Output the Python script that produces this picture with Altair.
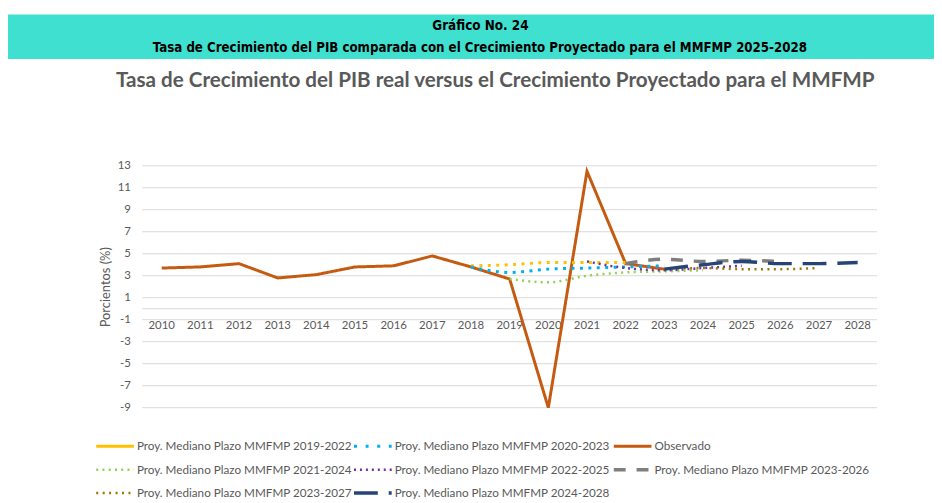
import altair as alt
import pandas as pd

# ---------------- data ----------------
years = list(range(2010, 2029))
year_labels = [str(y) for y in years]
y_ticks = [-9, -7, -5, -3, -1, 1, 3, 5, 7, 9, 11, 13]

series_names = [
    "Proy. Mediano Plazo MMFMP 2019-2022",
    "Proy. Mediano Plazo MMFMP 2020-2023",
    "Observado",
    "Proy. Mediano Plazo MMFMP 2021-2024",
    "Proy. Mediano Plazo MMFMP 2022-2025",
    "Proy. Mediano Plazo MMFMP 2023-2026",
    "Proy. Mediano Plazo MMFMP 2023-2027",
    "Proy. Mediano Plazo MMFMP 2024-2028",
]
series_colors = ["#FFC000", "#00B0F0", "#C55A11", "#92D050",
                 "#7030A0", "#7F7F7F", "#9C7700", "#264478"]
series_dashes = [[3, 5.5], [3, 5.5], [1, 0], [2, 4.3],
                 [2, 4], [12, 11], [2, 4.5], [24, 11]]
legend_dashes = [[1, 0], [3, 8.7], [1, 0], [2, 4.3],
                 [2, 4], [12, 11], [2, 4.5], [24, 11]]
series_widths = [3, 3, 3, 2.5, 2.5, 3.5, 2.5, 3.5]

observado_years = list(range(2010, 2024))
observado = [3.7, 3.8, 4.1, 2.8, 3.1, 3.8, 3.9, 4.8, 3.8, 2.7, -9.0, 12.5, 4.1, 3.6]

p1922_years = [2018, 2019, 2020, 2021, 2022]
p1922 = [3.9, 4.0, 4.2, 4.2, 4.2]
p2023_years = [2018, 2019, 2020, 2021, 2022, 2023]
p2023 = [3.8, 3.3, 3.6, 3.7, 3.8, 3.9]
p2124_years = [2019, 2020, 2021, 2022, 2023, 2024]
p2124 = [2.7, 2.4, 3.0, 3.3, 3.4, 3.5]
p2225_years = [2021, 2022, 2023, 2024, 2025]
p2225 = [4.3, 3.7, 3.5, 3.7, 3.9]
p2326_years = [2022, 2023, 2024, 2025, 2026]
p2326 = [4.1, 4.5, 4.3, 4.4, 4.3]
p2327_years = [2023, 2024, 2025, 2026, 2027]
p2327 = [3.6, 3.7, 3.6, 3.6, 3.7]
p2428_years = [2023, 2024, 2025, 2026, 2027, 2028]
p2428 = [3.6, 4.0, 4.3, 4.1, 4.1, 4.2]

header_line1 = "Gráfico No. 24"
header_line2 = "Tasa de Crecimiento del PIB comparada con el Crecimiento Proyectado para el MMFMP 2025-2028"
main_title = "Tasa de Crecimiento del PIB real versus el Crecimiento Proyectado para el MMFMP"
y_title = "Porcientos (%)"

# ---------------- tables ----------------
df_obs = pd.DataFrame({"year": observado_years, "value": observado, "series": "Observado"})
proj_parts = [
    (series_names[0], p1922_years, p1922),
    (series_names[1], p2023_years, p2023),
    (series_names[3], p2124_years, p2124),
    (series_names[4], p2225_years, p2225),
    (series_names[5], p2326_years, p2326),
    (series_names[6], p2327_years, p2327),
    (series_names[7], p2428_years, p2428),
]
df_proj = pd.concat(
    [pd.DataFrame({"year": ys, "value": vs, "series": n}) for n, ys, vs in proj_parts],
    ignore_index=True,
)
df_years = pd.DataFrame({"year": years, "label": year_labels})
df_grid = pd.DataFrame({"value": y_ticks})

# ---------------- layout / styling ----------------
FONT = "Lato"
HFONT = "Liberation Sans Narrow, Arial Narrow, DejaVu Sans Condensed, Liberation Sans, sans-serif"
GREY = "#595959"
W, H = 741, 244
PAD_L, PAD_T = 135.5, 157
CANVAS_W, CANVAS_H = 934, 495

# legend grid (pixels relative to the plot area's top-left corner)
LEG_COL_X = [-46.5, 213.5, 475.5]
LEG_ROW_Y = [283, 306.5, 330]
LEG_SYM_LEN = 38
LEG_GAP = 3
df_leg = pd.DataFrame({
    "series": series_names,
    "lx": [LEG_COL_X[i % 3] for i in range(len(series_names))],
    "ly": [LEG_ROW_Y[i // 3] for i in range(len(series_names))],
})
df_leg["lx2"] = df_leg["lx"] + LEG_SYM_LEN
df_leg["tx"] = df_leg["lx"] + LEG_SYM_LEN + LEG_GAP

xscale = alt.Scale(domain=[2009.5, 2028.5], nice=False, zero=False)
yscale = alt.Scale(domain=[-9, 13], nice=False, zero=False)
yaxis = alt.Axis(values=y_ticks, tickCount=30, grid=False, labelOverlap=False,
                 labelExpr="datum.value + ''",
                 domain=False, ticks=False, labelPadding=12, labelFont=FONT,
                 labelFontSize=11.5, labelColor=GREY, title=y_title,
                 titleFont=FONT, titleFontSize=13, titleFontWeight="normal",
                 titleColor=GREY, titlePadding=5)

color_enc = alt.Color("series:N", scale=alt.Scale(domain=series_names, range=series_colors), legend=None)
width_enc = alt.StrokeWidth("series:N", scale=alt.Scale(type="ordinal", domain=series_names, range=series_widths), legend=None)

enc = dict(
    x=alt.X("year:Q", scale=xscale, axis=None),
    y=alt.Y("value:Q", scale=yscale, axis=yaxis),
    color=color_enc,
    strokeDash=alt.StrokeDash("series:N", scale=alt.Scale(domain=series_names, range=series_dashes), legend=None),
    strokeWidth=width_enc,
)

one = pd.DataFrame({"a": [0]})

band = alt.Chart(one).mark_rect(color="#40E0D0").encode(
    x=alt.value(-PAD_L), x2=alt.value(CANVAS_W - PAD_L),
    y=alt.value(-152.7), y2=alt.value(-107.7))

hdr1 = alt.Chart(one).mark_text(text=header_line1, font=HFONT,
                                fontWeight="bold", fontSize=13.5, color="black",
                                align="center", baseline="middle").encode(
    x=alt.value(341), y=alt.value(-140.5))
hdr2 = alt.Chart(one).mark_text(text=header_line2, font=HFONT,
                                fontWeight="bold", fontSize=13.3, color="black",
                                align="center", baseline="middle").encode(
    x=alt.value(340.5), y=alt.value(-118.5))
ttl = alt.Chart(one).mark_text(text=main_title, font=FONT, fontWeight="bold",
                               fontSize=20.8, color=GREY, align="center",
                               baseline="middle").encode(
    x=alt.value(356), y=alt.value(-85))

grid = alt.Chart(df_grid).mark_rule(color="#D9D9D9", strokeWidth=1).encode(
    y=alt.Y("value:Q", scale=yscale, axis=yaxis))

zero_rule = alt.Chart(one).mark_rule(color="#D9D9D9", strokeWidth=1).encode(
    y=alt.datum(0))

xlabels = alt.Chart(df_years).mark_text(dy=17, font=FONT, fontSize=11.5, color=GREY,
                                        align="center", baseline="middle").encode(
    x=alt.X("year:Q", scale=xscale, axis=None),
    y=alt.datum(0),
    text="label:N")

obs_line = alt.Chart(df_obs).mark_line(strokeCap="butt", interpolate="linear").encode(**enc)
proj_line = alt.Chart(df_proj).mark_line(strokeCap="butt", interpolate="monotone").encode(**enc)

leg_sym = alt.Chart(df_leg).mark_rule(strokeCap="butt").encode(
    x=alt.X("lx:Q", scale=None, axis=None), x2="lx2:Q",
    y=alt.Y("ly:Q", scale=None, axis=None),
    color=color_enc,
    strokeDash=alt.StrokeDash("series:N", scale=alt.Scale(domain=series_names, range=legend_dashes), legend=None),
    strokeWidth=width_enc,
)
leg_txt = alt.Chart(df_leg).mark_text(font=FONT, fontSize=11.8, color=GREY,
                                      align="left", baseline="middle").encode(
    x=alt.X("tx:Q", scale=None, axis=None),
    y=alt.Y("ly:Q", scale=None, axis=None),
    text="series:N")

chart = alt.layer(band, hdr1, hdr2, ttl, grid, zero_rule, xlabels,
                  obs_line, proj_line, leg_sym, leg_txt).resolve_scale(
    strokeDash="independent"
).properties(
    width=W, height=H,
    padding={"left": PAD_L, "top": PAD_T, "right": CANVAS_W - PAD_L - W,
             "bottom": CANVAS_H - PAD_T - H},
    autosize=alt.AutoSizeParams(type="none"),
).configure_view(strokeWidth=0)

chart.save("out.html", embed_options={"renderer": "svg", "actions": False})
